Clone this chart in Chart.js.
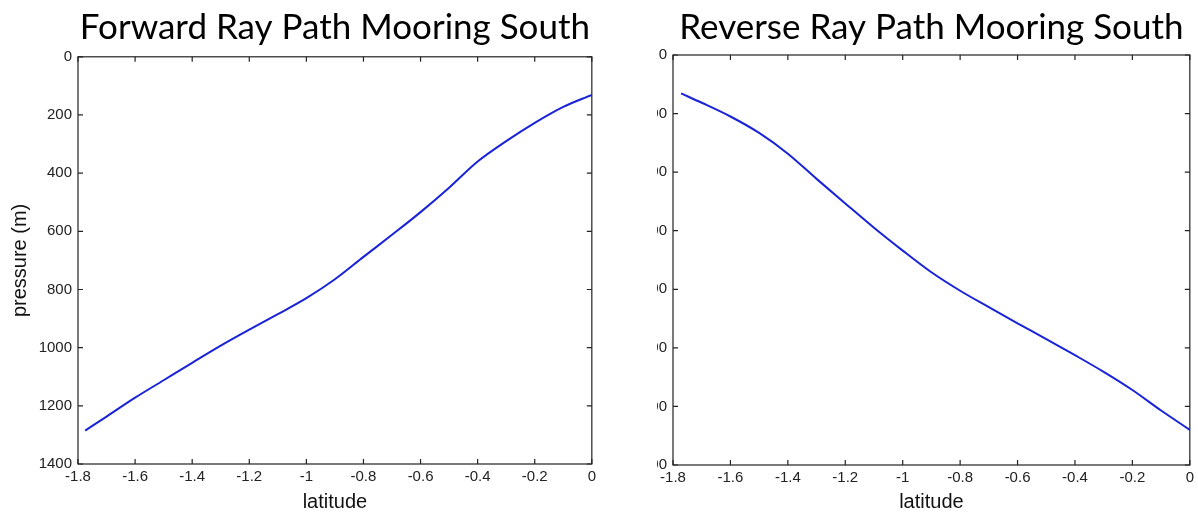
<!DOCTYPE html>
<html>
<head>
<meta charset="utf-8">
<script src="https://cdn.jsdelivr.net/npm/chart.js@4"></script>
<style>
  html, body { margin: 0; padding: 0; background: #fff; }
  body { width: 1198px; height: 515px; position: relative; overflow: hidden; }
  #left { position: absolute; left: 0; top: 0; width: 600px; height: 515px; }
  #clip { position: absolute; left: 657px; top: 0; width: 541px; height: 515px; overflow: hidden; }
  #right { position: absolute; left: -57px; top: 0; width: 598px; height: 515px; }
</style>
</head>
<body>
<canvas id="left" width="600" height="515"></canvas>
<div id="clip"><canvas id="right" width="598" height="515"></canvas></div>
<script>
// latitude / pressure
var fwdLat = [-1.775, -1.7, -1.6, -1.5, -1.4, -1.3, -1.2, -1.1, -1.0, -0.9, -0.8, -0.7, -0.6, -0.5, -0.4, -0.3, -0.2, -0.1, 0];
var fwdPres = [1285, 1237, 1172, 1112, 1052, 993, 938, 885, 830, 765, 688, 612, 534, 450, 360, 290, 227, 172, 131];

var revLat = [-1.772, -1.7, -1.6, -1.5, -1.4, -1.3, -1.2, -1.1, -1.0, -0.9, -0.8, -0.7, -0.6, -0.5, -0.4, -0.3, -0.2, -0.1, 0];
var revPres = [131, 163, 210, 266, 337, 423, 507, 590, 668, 742, 805, 861, 916, 970, 1025, 1082, 1144, 1214, 1280];

var latTicks = [-1.8, -1.6, -1.4, -1.2, -1, -0.8, -0.6, -0.4, -0.2, 0];
var presTicks = [0, 200, 400, 600, 800, 1000, 1200, 1400];

// matlab style box with inward ticks on all four sides
var boxPlugin = {
    id: 'box',
    afterDraw: function(chart) {
        var a = chart.chartArea, ctx = chart.ctx;
        var xs = chart.scales.x, ys = chart.scales.y;
        ctx.save();
        ctx.strokeStyle = '#222';
        ctx.lineWidth = 1.2;
        ctx.strokeRect(a.left, a.top, a.right - a.left, a.bottom - a.top);
        ctx.beginPath();
        latTicks.forEach(function(v) {
            var px = xs.getPixelForValue(v);
            ctx.moveTo(px, a.bottom); ctx.lineTo(px, a.bottom - 5);
            ctx.moveTo(px, a.top); ctx.lineTo(px, a.top + 5);
        });
        presTicks.forEach(function(v) {
            var py = ys.getPixelForValue(v);
            ctx.moveTo(a.left, py); ctx.lineTo(a.left + 5, py);
            ctx.moveTo(a.right, py); ctx.lineTo(a.right - 5, py);
        });
        ctx.stroke();
        ctx.restore();
    }
};

function toPoints(xs, ys) {
    return xs.map(function(x, i) { return {x: x, y: ys[i]}; });
}

function createGraphic(id, title, lat, pres, opts) {
    var ctx = document.getElementById(id);
    var yTitle = opts.yTitle ? {display: true, text: 'pressure (m)', color: '#111',
        font: {family: 'Liberation Sans', size: 20}, padding: {top: 8, bottom: 0}} : {display: false};
    return new Chart(ctx, {
        type: 'line',
        data: {
            datasets: [{
                data: toPoints(lat, pres),
                borderColor: 'rgb(25,35,215)',
                borderWidth: 2,
                pointRadius: 0,
                fill: false,
                cubicInterpolationMode: 'monotone'
            }]
        },
        options: {
            responsive: false,
            animation: false,
            layout: {padding: {left: 0, right: opts.padRight, top: 0, bottom: 0}},
            plugins: {
                legend: {display: false},
                tooltip: {enabled: false},
                title: {
                    display: true,
                    text: title,
                    fullSize: false,
                    color: '#000',
                    font: {family: 'Lato', size: 35, weight: 'normal'},
                    padding: {top: 7, bottom: opts.titleBottom}
                }
            },
            scales: {
                x: {
                    type: 'linear',
                    min: -1.8,
                    max: 0,
                    afterBuildTicks: function(s) { s.ticks = latTicks.map(function(v) { return {value: v}; }); },
                    afterFit: function(s) { s.height = opts.xHeight; },
                    grid: {display: false, drawTicks: false},
                    border: {display: false},
                    ticks: {
                        padding: 4,
                        color: '#222',
                        font: {family: 'Liberation Sans', size: 15},
                        maxRotation: 0,
                        callback: function(v) { return String(Math.round(v * 10) / 10); }
                    },
                    title: {display: true, text: 'latitude', color: '#111',
                        font: {family: 'Liberation Sans', size: 20}, padding: {top: 0, bottom: 1}}
                },
                y: {
                    type: 'linear',
                    reverse: true,
                    min: 0,
                    max: 1400,
                    afterBuildTicks: function(s) { s.ticks = presTicks.map(function(v) { return {value: v}; }); },
                    afterFit: function(s) { s.width = opts.yWidth; },
                    grid: {display: false, drawTicks: false},
                    border: {display: false},
                    ticks: {
                        padding: 6,
                        color: '#222',
                        font: {family: 'Liberation Sans', size: 15},
                        callback: function(v) { return String(v); }
                    },
                    title: yTitle
                }
            }
        },
        plugins: [boxPlugin]
    });
}

createGraphic('left', 'Forward Ray Path Mooring South', fwdLat, fwdPres,
    {yTitle: true, yWidth: 78, xHeight: 51, padRight: 7, titleBottom: 7.8});
createGraphic('right', 'Reverse Ray Path Mooring South', revLat, revPres,
    {yTitle: false, yWidth: 73, xHeight: 50, padRight: 6, titleBottom: 6});
</script>
</body>
</html>
